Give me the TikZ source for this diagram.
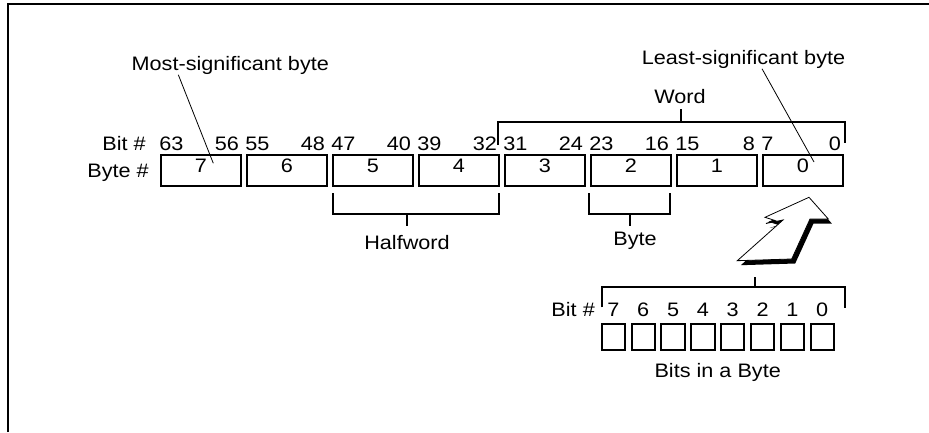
\documentclass[tikz,border=0pt]{standalone}
\usepackage{fontspec}
\setmainfont{Liberation Sans}[FakeStretch=1.11]
\usepackage{tikz}
\usetikzlibrary{positioning}

\begin{document}
\begin{tikzpicture}[
  x=1pt, y=1pt, font=\fontsize{19.5}{22}\selectfont,
  box/.style={draw, line width=2pt, minimum width=79.5pt, minimum height=30.5pt, text depth=10pt, inner sep=0pt},
  bitbox/.style={draw, line width=2pt, minimum width=23.3pt, minimum height=25.4pt, inner sep=0pt},
  num/.style={inner sep=0pt},
  brace/.style={line width=2pt},
  lead/.style={line width=0.8pt}
]
  \useasboundingbox (0,0) rectangle (929,432);
  \draw[line width=2.2pt] (8.3,0) -- (8.3,427.7) -- (929,427.7);

  % bytes of the doubleword
  \node[box] (b7) at (201,261.7) {7};
  \node[box] (b6) at (287,261.7) {6};
  \node[box] (b5) at (373,261.7) {5};
  \node[box] (b4) at (459,261.7) {4};
  \node[box] (b3) at (545,261.7) {3};
  \node[box] (b2) at (631,261.7) {2};
  \node[box] (b1) at (717,261.7) {1};
  \node[box] (b0) at (803,261.7) {0};
  \node[num, anchor=base east] (bitlbl) at (146,281.3) {Bit \#};
  \node[num, anchor=base east] (bytelbl) at (149,254.5) {Byte \#};

  % bit numbers
  \node[num, anchor=base west] (n63) at (159.2,281.3) {63};
  \node[num, anchor=base east] (n56) at (239.2,281.3) {56};
  \node[num, anchor=base west] (n55) at (245.2,281.3) {55};
  \node[num, anchor=base east] (n48) at (325.2,281.3) {48};
  \node[num, anchor=base west] (n47) at (331.2,281.3) {47};
  \node[num, anchor=base east] (n40) at (411.2,281.3) {40};
  \node[num, anchor=base west] (n39) at (417.2,281.3) {39};
  \node[num, anchor=base east] (n32) at (497.2,281.3) {32};
  \node[num, anchor=base west] (n31) at (503.2,281.3) {31};
  \node[num, anchor=base east] (n24) at (583.2,281.3) {24};
  \node[num, anchor=base west] (n23) at (589.2,281.3) {23};
  \node[num, anchor=base east] (n16) at (669.2,281.3) {16};
  \node[num, anchor=base west] (n15) at (675.2,281.3) {15};
  \node[num, anchor=base east] (n8)  at (755.2,281.3) {8};
  \node[num, anchor=base west] (n7)  at (761.2,281.3) {7};
  \node[num, anchor=base east] (n0)  at (841.2,281.3) {0};

  % callouts
  \node[num, anchor=base] (msb) at (230.3,361.5) {Most-significant byte};
  \node[num, anchor=base] (lsb) at (743.5,367.5) {Least-significant byte};
  \coordinate (msbtip) at (213.3,268.7);
  \coordinate (lsbtip) at (814,270);
  \draw[lead] ([xshift=-52pt]msb.south) -- (msbtip);
  \draw[lead] ([xshift=18.5pt]lsb.south) -- (lsbtip);

  % word, halfword, byte
  \node[num, anchor=base] (word) at (680,328) {Word};
  \draw[brace] (497.7,287) -- (497.7,310.3) -- (845,310.3) -- (845,289);
  \draw[brace] (681,310.3) -- (681,322.7);
  \node[num, anchor=base] (half) at (407,183) {Halfword};
  \draw[brace] (333.3,238.7) -- (333.3,217.7) -- (499,217.7) -- (499,238.7);
  \draw[brace] (406.7,217.7) -- (406.7,206.3);
  \node[num, anchor=base] (byte) at (635,187) {Byte};
  \draw[brace] (588.7,238.7) -- (588.7,217.7) -- (670.3,217.7) -- (670.3,238.7);
  \draw[brace] (630,217.7) -- (630,206.3);

  % hollow arrow with shadow
  \fill[black, shift={(3.5,-4.5)}] (809,234.7) -- (765,214.7) -- (775,211.5) -- (766,208.5)
    -- (783,212) -- (737.3,171.3) -- (791.7,173) -- (810,213) -- (828.3,213) -- cycle;
  \filldraw[fill=white, lead] (809,234.7) -- (765,214.7) -- (775,211.5) -- (766,208.5)
    -- (783,212) -- (737.3,171.3) -- (791.7,173) -- (810,213) -- (828.3,213) -- cycle;

  % bits in a byte
  \draw[brace] (601.7,124.7) -- (601.7,144.7) -- (845,144.7) -- (845,124);
  \draw[brace] (755,144.7) -- (755,155.5);
  \node[num, anchor=base east] (bitlbl2) at (595,116) {Bit \#};
  \node[bitbox] (x7) at (613.4,95) {};
  \node[bitbox] (x6) at (643.2,95) {};
  \node[bitbox] (x5) at (673.1,95) {};
  \node[bitbox] (x4) at (702.9,95) {};
  \node[bitbox] (x3) at (732.7,95) {};
  \node[bitbox] (x2) at (762.6,95) {};
  \node[bitbox] (x1) at (792.4,95) {};
  \node[bitbox] (x0) at (822.2,95) {};
  \node[num, anchor=base] (d7) at (613.4,116) {7};
  \node[num, anchor=base] (d6) at (643.2,116) {6};
  \node[num, anchor=base] (d5) at (673.1,116) {5};
  \node[num, anchor=base] (d4) at (702.9,116) {4};
  \node[num, anchor=base] (d3) at (732.7,116) {3};
  \node[num, anchor=base] (d2) at (762.6,116) {2};
  \node[num, anchor=base] (d1) at (792.4,116) {1};
  \node[num, anchor=base] (d0) at (822.2,116) {0};
  \node[num, anchor=base] (bitsbyte) at (717.7,55) {Bits in a Byte};
\end{tikzpicture}
\end{document}
